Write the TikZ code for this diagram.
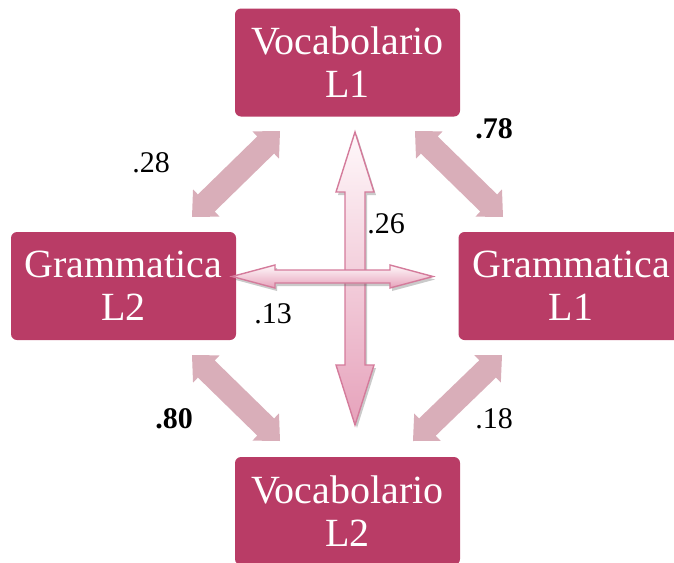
\documentclass[tikz,border=0pt]{standalone}
\usepackage{fontspec}
\setmainfont{LiberationSerif}[Extension=.ttf, UprightFont=*-Regular, BoldFont=*-Bold, ItalicFont=*-Italic, BoldItalicFont=*-BoldItalic]
\usetikzlibrary{calc,shadows}
\definecolor{boxc}{HTML}{B93C66}
\definecolor{diagc}{HTML}{D9AEB9}
\definecolor{crossline}{HTML}{D47B9B}
\definecolor{crossbot}{HTML}{E6A2BB}
\definecolor{crosstop}{HTML}{FFF8FA}
% #1 style, #2 tip A, #3 tip B, #4 head length, #5 head half width, #6 shaft half width
\newcommand\blockdarrow[6]{%
  \path ($(#2)!#4!(#3)$) coordinate (h1) ($(#3)!#4!(#2)$) coordinate (h2);
  \path[#1] (#2) -- ($(h1)!#5!90:(#3)$) -- ($(h1)!#6!90:(#3)$)
    -- ($(h2)!#6!-90:(#2)$) -- ($(h2)!#5!-90:(#2)$) -- (#3)
    -- ($(h2)!#5!90:(#2)$) -- ($(h2)!#6!90:(#2)$)
    -- ($(h1)!#6!-90:(#3)$) -- ($(h1)!#5!-90:(#3)$) -- cycle;}
\begin{document}
\begin{tikzpicture}[x=1pt,y=-1pt,
  box/.style={rectangle, rounded corners=6pt, fill=boxc, text=white,
    minimum width=225pt, minimum height=108pt, align=center, inner sep=0pt,
    font=\rmfamily\fontsize{40}{43}\selectfont},
  lbl/.style={font=\rmfamily\fontsize{30}{32}\selectfont, anchor=base, inner sep=0pt, text=black},
  diag/.style={fill=diagc},
  crossarrow/.style={draw=crossline, line width=1.4pt, top color=crosstop, bottom color=crossbot,
    drop shadow={shadow xshift=2pt, shadow yshift=-3pt, opacity=0.35, fill=black!60}}]
\useasboundingbox (0,0) rectangle (674,562);
\clip (0,0) rectangle (674,562);

% boxes
\node[box] (v1) at (347.5,62.5) {Vocabolario\\L1};
\node[box] (g2) at (123.5,286) {Grammatica\\L2};
\node[box] (g1) at (571,286) {Grammatica\\L1};
\node[box] (v2) at (347.5,511) {Vocabolario\\L2};

% diagonal arrows
\coordinate (tlA) at (192,217); \coordinate (tlB) at (280,131);
\coordinate (trA) at (415,131); \coordinate (trB) at (503,217);
\coordinate (blA) at (192,355); \coordinate (blB) at (280,441);
\coordinate (brA) at (413,441); \coordinate (brB) at (502,355);
\blockdarrow{diag}{tlA}{tlB}{20pt}{19pt}{12pt}
\blockdarrow{diag}{trA}{trB}{20pt}{19pt}{12pt}
\blockdarrow{diag}{blA}{blB}{20pt}{19pt}{12pt}
\blockdarrow{diag}{brA}{brB}{20pt}{19pt}{12pt}

% central cross
\coordinate (vt) at (355,132); \coordinate (vb) at (355,425);
\coordinate (hl) at (232,276.5); \coordinate (hr) at (433,276.5);
\blockdarrow{crossarrow}{vt}{vb}{60pt}{19pt}{10pt}
\blockdarrow{crossarrow}{hl}{hr}{43pt}{11.5pt}{6.5pt}

% labels
\node[lbl] (l28) at (151,172) {.28};
\node[lbl] (l78) at (494,138) {\textbf{.78}};
\node[lbl] (l80) at (174,428) {\textbf{.80}};
\node[lbl] (l18) at (494,428) {.18};
\node[lbl] (l26) at (386,233) {.26};
\node[lbl] (l13) at (273,323) {.13};
\end{tikzpicture}
\end{document}
